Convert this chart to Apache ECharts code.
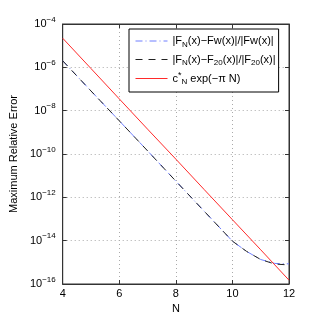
<!DOCTYPE html>
<html>
<head>
<meta charset="utf-8">
<script src="https://cdn.jsdelivr.net/npm/echarts@6/dist/echarts.min.js"></script>
<style>html,body{margin:0;padding:0;background:#fff;}#c{width:319px;height:320px;}</style>
</head>
<body>
<div id="c"></div>
<script>
// Data
var nValues = [4, 5, 6, 7, 8, 9, 10, 10.5, 11, 11.5, 12];
var errFw = [2.0e-6, 8.1e-8, 3.4e-9, 1.4e-10, 5.6e-12, 2.3e-13, 9.5e-15, 3.2e-15, 1.35e-15, 8.9e-16, 8.5e-16];
var errF20 = [2.0e-6, 8.1e-8, 3.4e-9, 1.4e-10, 5.6e-12, 2.3e-13, 9.5e-15, 3.2e-15, 1.35e-15, 8.3e-16, 7.6e-16];
var nBound = [4, 5, 6, 7, 8, 9, 10, 11, 12];
var bound = [2.2e-5, 8.8e-7, 3.5e-8, 1.4e-9, 5.8e-11, 2.3e-12, 9.3e-14, 3.8e-15, 1.5e-16];
var xTicks = [4, 6, 8, 10, 12];
var legendNames = ['fw', 'f20', 'bound'];
var legendLabels = {
  fw: '|F{s|N}(x)\u2212Fw(x)|/|Fw(x)|',
  f20: '|F{s|N}(x)\u2212F{s|20}(x)|/|F{s|20}(x)|',
  bound: 'c{p|*}{s|N} exp(\u2212\u03c0 N)'
};
var xName = 'N';
var yName = 'Maximum Relative Error';

function pairs(xs, ys) { return xs.map(function (x, i) { return [x, ys[i]]; }); }

var font = 'Liberation Sans, Arial, Helvetica, sans-serif';
var chart = echarts.init(document.getElementById('c'), null, { renderer: 'canvas' });
var axisLineStyle = { color: '#333', width: 1 };
var option = {
  animation: false,
  backgroundColor: '#fff',
  textStyle: { fontFamily: font },
  grid: { left: 47, right: 30, top: 24, bottom: 36, show: true, borderColor: '#333', borderWidth: 1 },
  legend: {
    data: legendNames,
    orient: 'vertical',
    left: 129, top: 29,
    padding: [5, 3, 6, 6],
    itemGap: 4,
    itemWidth: 32, itemHeight: 14,
    backgroundColor: '#fff',
    borderColor: '#000', borderWidth: 1, borderRadius: 0,
    itemStyle: { opacity: 0, color: 'transparent', borderColor: 'transparent', borderWidth: 0 },
    lineStyle: { width: 1 },
    formatter: function (n) { return legendLabels[n]; },
    textStyle: {
      fontFamily: font, fontSize: 11, color: '#000', lineHeight: 14,
      rich: {
        s: { fontSize: 8, fontFamily: font, color: '#000', padding: [7, 0, 0, 0] },
        p: { fontSize: 9, fontFamily: font, color: '#000', padding: [0, 0, 6, 0] }
      }
    }
  },
  xAxis: [{
    type: 'value', min: 4, max: 12, interval: 2,
    name: xName, nameLocation: 'middle', nameGap: 16,
    nameTextStyle: { fontFamily: font, fontSize: 11, color: '#000' },
    axisLine: { show: true, lineStyle: axisLineStyle },
    axisTick: { show: true, inside: true, length: 4, lineStyle: axisLineStyle },
    axisLabel: { fontFamily: font, fontSize: 11, color: '#000', margin: 4, showMinLabel: true, showMaxLabel: true },
    splitLine: { show: true, lineStyle: { color: '#aaa', type: [1, 3], width: 1 } }
  }, {
    type: 'value', min: 4, max: 12, interval: 2, position: 'top',
    axisLine: { show: true, lineStyle: axisLineStyle },
    axisTick: { show: true, inside: true, length: 4, lineStyle: axisLineStyle },
    axisLabel: { show: false }, splitLine: { show: false }
  }],
  yAxis: [{
    type: 'log', logBase: 10, min: 1e-16, max: 1e-4, interval: 2,
    name: yName, nameLocation: 'middle', nameGap: 39, nameRotate: 90,
    nameTextStyle: { fontFamily: font, fontSize: 11, color: '#000' },
    axisLine: { show: true, lineStyle: axisLineStyle },
    axisTick: { show: true, inside: true, length: 4, lineStyle: axisLineStyle },
    minorTick: { show: false },
    axisLabel: {
      margin: 7, color: '#000', fontFamily: font, fontSize: 11,
      showMinLabel: true, showMaxLabel: true,
      formatter: function (v) {
        var e = Math.round(Math.log(v) / Math.LN10);
        return '{b|10}{e|' + (e < 0 ? '\u2212' + (-e) : e) + '}';
      },
      rich: {
        b: { fontFamily: font, fontSize: 11, color: '#000' },
        e: { fontFamily: font, fontSize: 8, color: '#000', padding: [0, 0, 9, 0] }
      }
    },
    splitLine: { show: true, lineStyle: { color: '#aaa', type: [1, 3], width: 1 } }
  }, {
    type: 'log', logBase: 10, min: 1e-16, max: 1e-4, interval: 2, position: 'right',
    axisLine: { show: true, lineStyle: axisLineStyle },
    axisTick: { show: true, inside: true, length: 4, lineStyle: axisLineStyle },
    axisLabel: { show: false }, splitLine: { show: false }
  }],
  series: [{
    name: 'fw', type: 'line', data: pairs(nValues, errFw), symbol: 'none', showSymbol: false,
    lineStyle: { color: '#6f7fff', width: 1, type: [7, 3, 1, 3] }, itemStyle: { color: '#6f7fff' }
  }, {
    name: 'f20', type: 'line', data: pairs(nValues, errF20), symbol: 'none', showSymbol: false,
    lineStyle: { color: '#222', width: 1, type: [7, 6] }, itemStyle: { color: '#222' }
  }, {
    name: 'bound', type: 'line', data: pairs(nBound, bound), symbol: 'none', showSymbol: false,
    lineStyle: { color: '#ff2a2a', width: 1 }, itemStyle: { color: '#ff2a2a' }
  }]
};
chart.setOption(option);
</script>
</body>
</html>
